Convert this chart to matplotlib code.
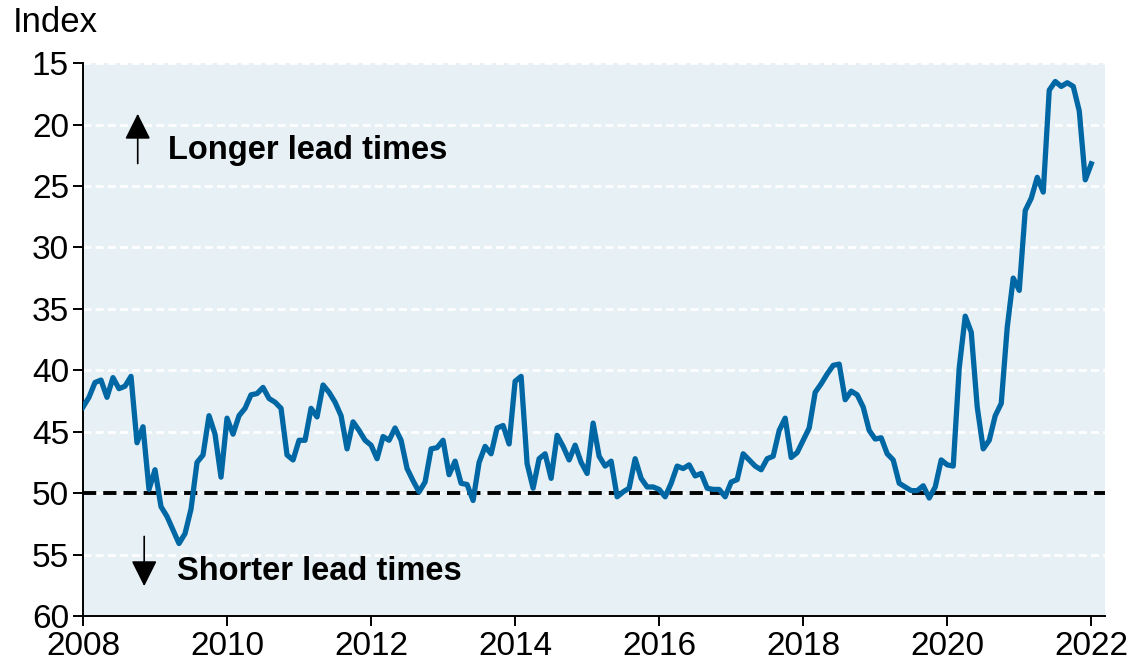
import numpy as np
import matplotlib.pyplot as plt

plt.rcParams['font.family'] = ['Liberation Sans', 'DejaVu Sans']

# monthly index, Jan 2008 - Jan 2022
start_year = 2008
values = [
    43.0, 42.2, 41.0, 40.8, 42.2, 40.6, 41.5, 41.3, 40.5, 45.9, 44.6, 49.7,
    48.1, 51.1, 51.9, 53.0, 54.1, 53.3, 51.3, 47.5, 46.9, 43.7, 45.2, 48.7,
    43.9, 45.2, 43.7, 43.1, 42.0, 41.9, 41.4, 42.3, 42.6, 43.1, 46.9, 47.3,
    45.7, 45.7, 43.1, 43.8, 41.2, 41.8, 42.6, 43.7, 46.4, 44.2, 44.9, 45.7,
    46.1, 47.2, 45.4, 45.7, 44.7, 45.7, 48.0, 49.0, 49.9, 49.1, 46.4, 46.3,
    45.7, 48.5, 47.4, 49.2, 49.3, 50.6, 47.5, 46.2, 46.8, 44.7, 44.5, 46.0,
    40.9, 40.5, 47.6, 49.6, 47.2, 46.8, 48.8, 45.3, 46.2, 47.3, 46.1, 47.5,
    48.4, 44.3, 47.0, 47.8, 47.4, 50.3, 49.9, 49.6, 47.2, 48.8, 49.5, 49.5,
    49.7, 50.3, 49.2, 47.8, 48.0, 47.7, 48.6, 48.4, 49.6, 49.7, 49.7, 50.3,
    49.1, 48.9, 46.8, 47.3, 47.8, 48.1, 47.2, 47.0, 44.9, 43.9, 47.1, 46.7,
    45.7, 44.7, 41.8, 41.1, 40.3, 39.6, 39.5, 42.4, 41.7, 42.0, 43.0, 44.9,
    45.6, 45.5, 46.8, 47.3, 49.2, 49.5, 49.8, 49.8, 49.4, 50.4, 49.5, 47.3,
    47.7, 47.8, 39.8, 35.6, 36.9, 43.0, 46.4, 45.7, 43.7, 42.7, 36.5, 32.5,
    33.5, 27.0, 26.0, 24.3, 25.5, 17.2, 16.5, 16.9, 16.6, 16.9, 18.9, 24.5,
    23.2,
]
x_ticks = list(range(2008, 2023, 2))
y_ticks = list(range(15, 61, 5))
neutral = 50

dates = start_year + np.arange(len(values)) / 12

fig = plt.figure(figsize=(11.29, 6.71), dpi=100)
ax = fig.add_axes([0.0735, 0.082, 0.9052, 0.824])
ax.set_facecolor('#e7f0f4')

for y in y_ticks[:-1]:
    ax.axhline(y, color='white', lw=1.9, dashes=(3, 1.6), zorder=1)
ax.axhline(neutral, color='black', lw=2.8, dashes=(3.4, 1.8), zorder=2)

ax.plot(dates, values, color='#0067a5', lw=3.8, zorder=3, solid_joinstyle='round')

ax.set_xlim(2008, 2022.19)
ax.set_ylim(60, 15)
ax.set_xticks(x_ticks)
ax.set_yticks(y_ticks)
ax.tick_params(labelsize=24, length=7, width=1.4, direction='out')
ax.tick_params(axis='x', pad=4)
ax.tick_params(axis='y', pad=3)
for s in ['top', 'right']:
    ax.spines[s].set_visible(False)
for s in ['left', 'bottom']:
    ax.spines[s].set_linewidth(1.4)

# direction markers
ax.annotate('', xy=(2008.76, 18.9), xytext=(2008.76, 23.4),
            arrowprops=dict(arrowstyle='-|>', color='black', lw=1.2,
                            mutation_scale=40))
ax.annotate('', xy=(2008.85, 57.8), xytext=(2008.85, 53.3),
            arrowprops=dict(arrowstyle='-|>', color='black', lw=1.2,
                            mutation_scale=40))
ax.text(2009.18, 22.1, 'Longer lead times', fontsize=23.5, fontweight='bold',
        va='center', ha='left')
ax.text(2009.3, 56.4, 'Shorter lead times', fontsize=23.5, fontweight='bold',
        va='center', ha='left')

fig.text(0.011, 0.967, 'Index', fontsize=25, va='center', ha='left')

fig.savefig('out.png', dpi=100)
